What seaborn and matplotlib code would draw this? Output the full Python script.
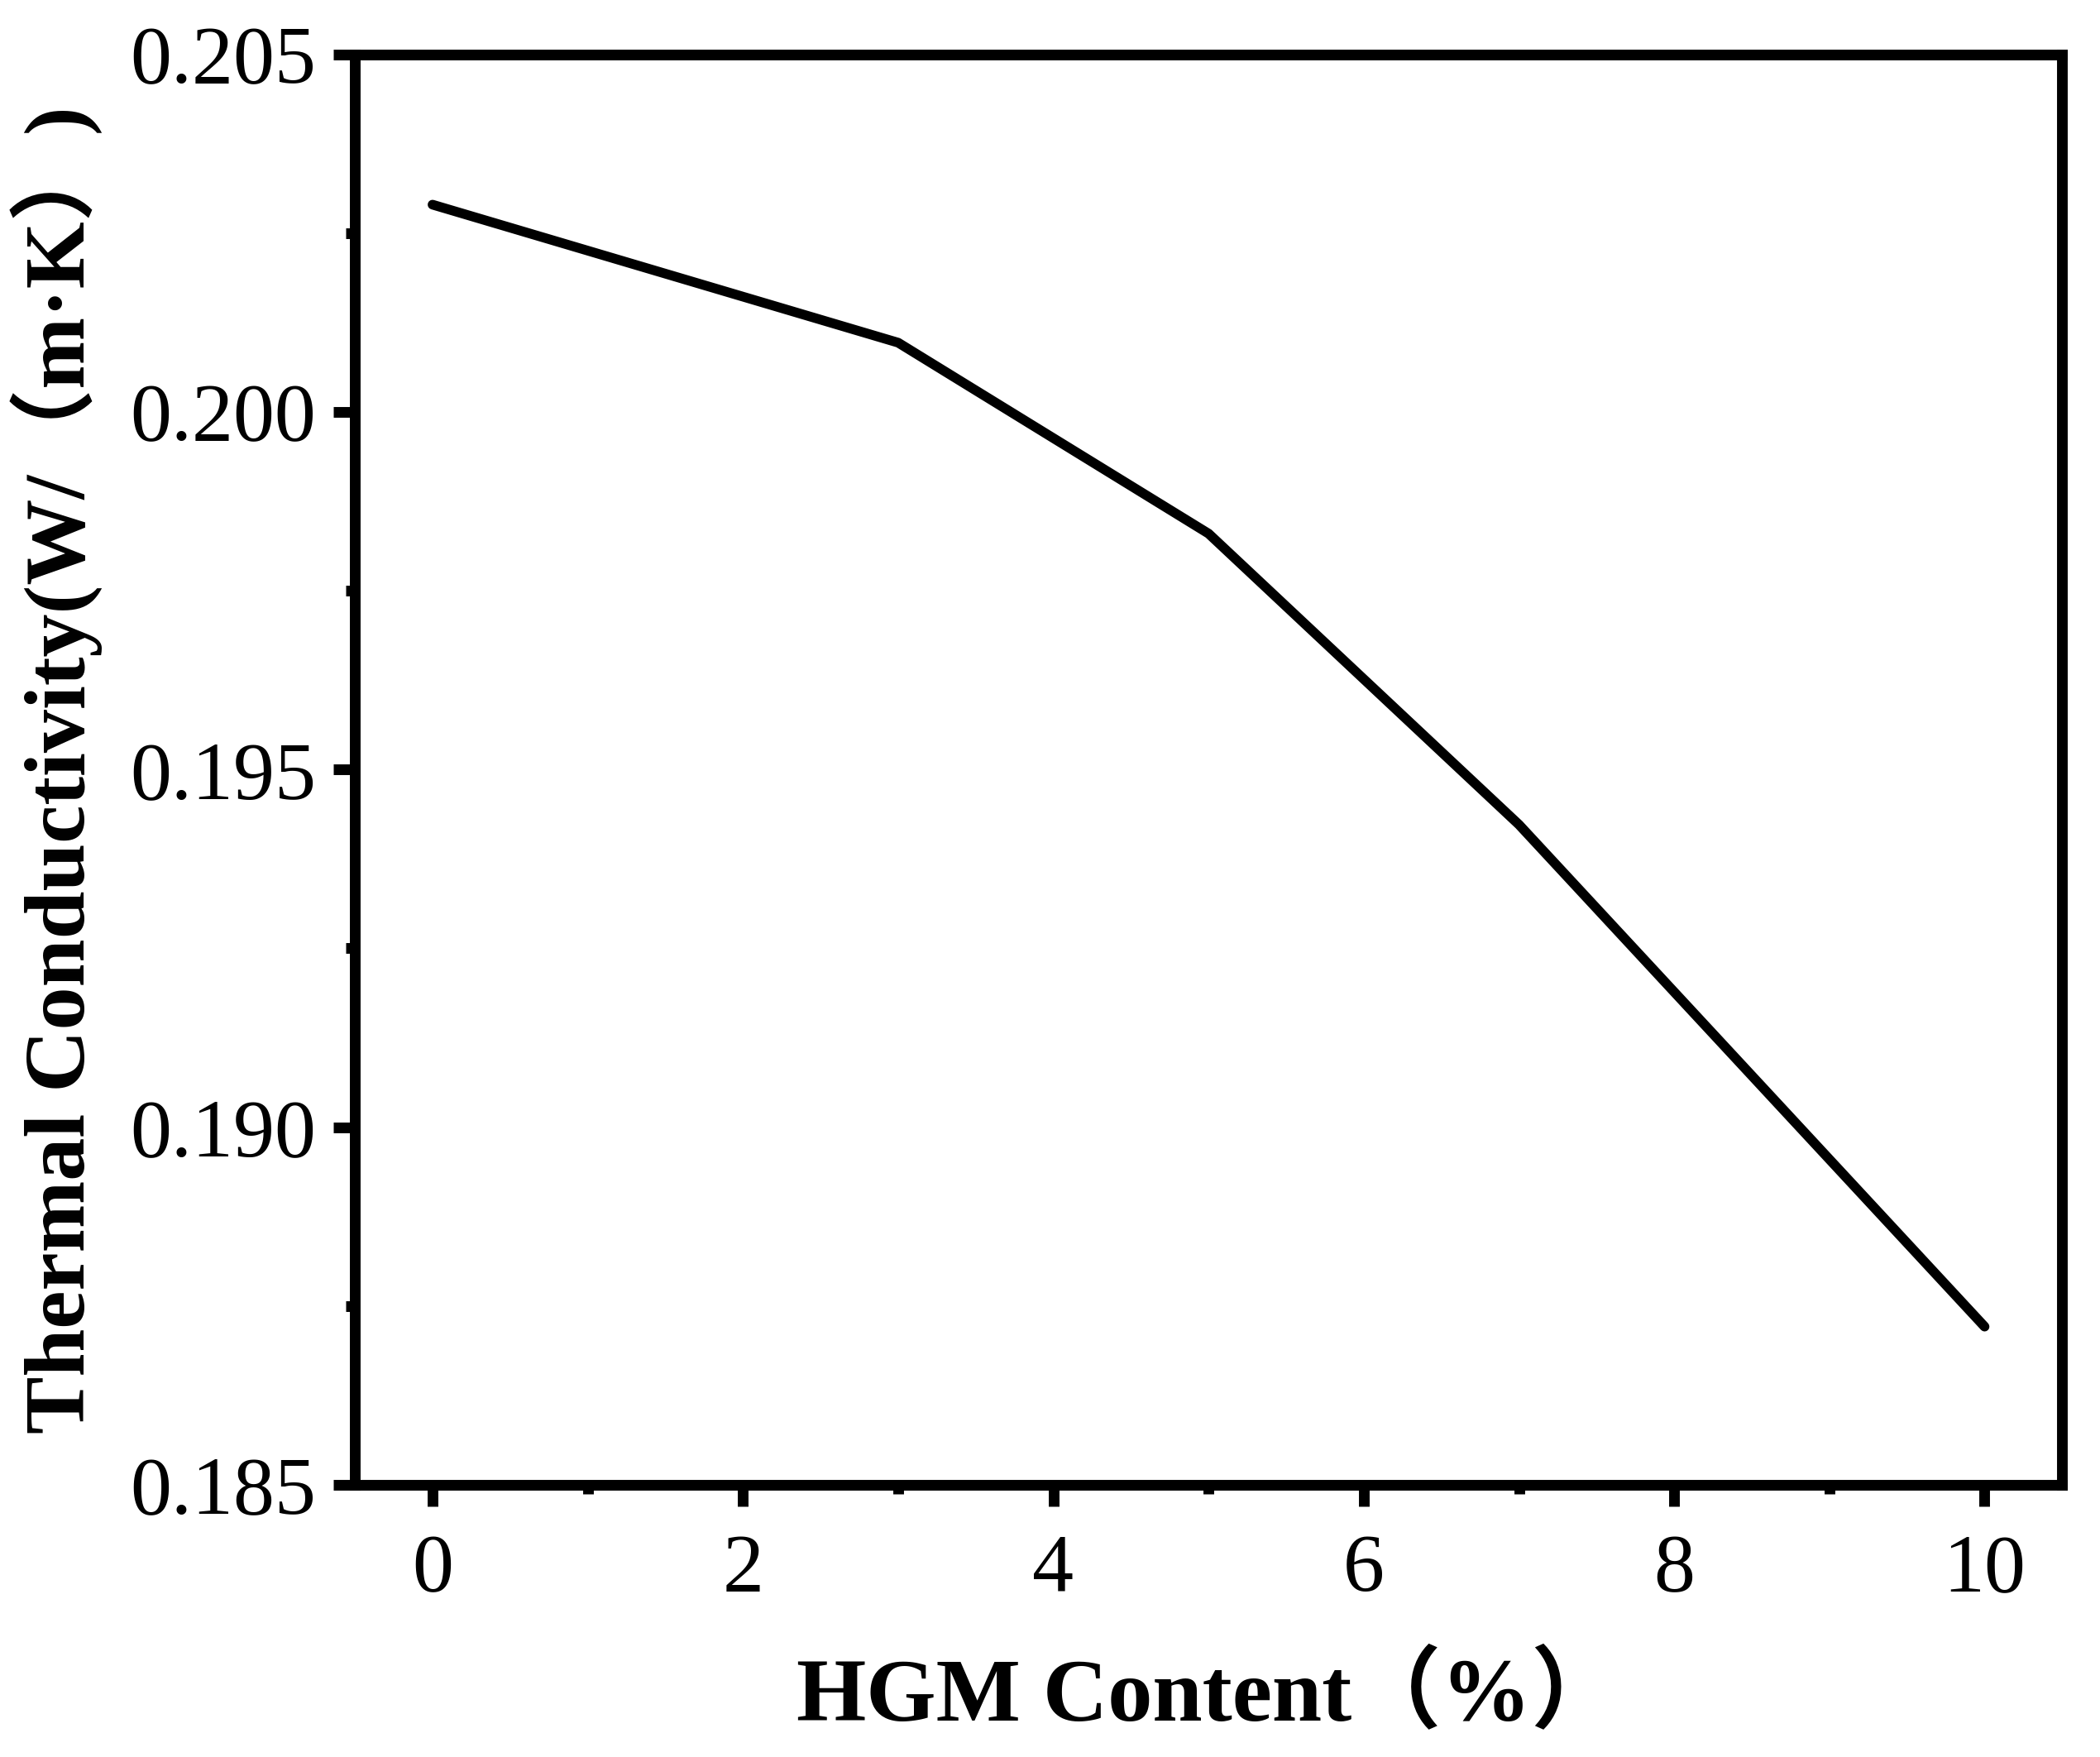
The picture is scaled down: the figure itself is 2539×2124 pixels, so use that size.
import numpy as np
import pandas as pd
import matplotlib
matplotlib.use("Agg")
import matplotlib.pyplot as plt
from matplotlib.ticker import MultipleLocator, FormatStrFormatter
import seaborn as sns

# data
hgm_content = [0, 3, 5, 7, 10]
conductivity = [0.20290, 0.20097, 0.19830, 0.19423, 0.18721]

x_label = "HGM Content（%）"
y_label = "Thermal Conductivity(W/（m·K）)"

df = pd.DataFrame({"HGM": hgm_content, "TC": conductivity})

sns.set_style("ticks")
plt.rcParams["font.family"] = ["Liberation Serif", "Noto Sans CJK SC"]
plt.rcParams["text.color"] = "black"
plt.rcParams["axes.labelcolor"] = "black"

fig = plt.figure(figsize=(2539 / 300, 2124 / 300), dpi=300)
ax = fig.add_axes([0.169, 0.155, 0.813, 0.814])

sns.lineplot(data=df, x="HGM", y="TC", ax=ax, color="black", linewidth=2.8)

ax.set_xlim(-0.5, 10.5)
ax.set_ylim(0.185, 0.205)
ax.xaxis.set_major_locator(MultipleLocator(2))
ax.xaxis.set_minor_locator(MultipleLocator(1))
ax.yaxis.set_major_locator(MultipleLocator(0.005))
ax.yaxis.set_minor_locator(MultipleLocator(0.0025))
ax.yaxis.set_major_formatter(FormatStrFormatter("%.3f"))

for s in ax.spines.values():
    s.set_linewidth(3.1)
    s.set_color("black")

ax.tick_params(which="major", direction="out", length=6.2, width=3.1,
               labelsize=24, pad=5, colors="black")
ax.tick_params(axis="x", which="major", pad=8)
ax.tick_params(which="minor", direction="out", length=2.6, width=3.1,
               colors="black")
ax.tick_params(top=False, right=False, which="both")

ax.set_xlabel(x_label, fontsize=26, fontweight="bold", labelpad=13,
              color="black")
ax.set_ylabel(y_label, fontsize=25, fontweight="bold", labelpad=8,
              color="black")

fig.savefig("out.png", dpi=300, facecolor="white")
